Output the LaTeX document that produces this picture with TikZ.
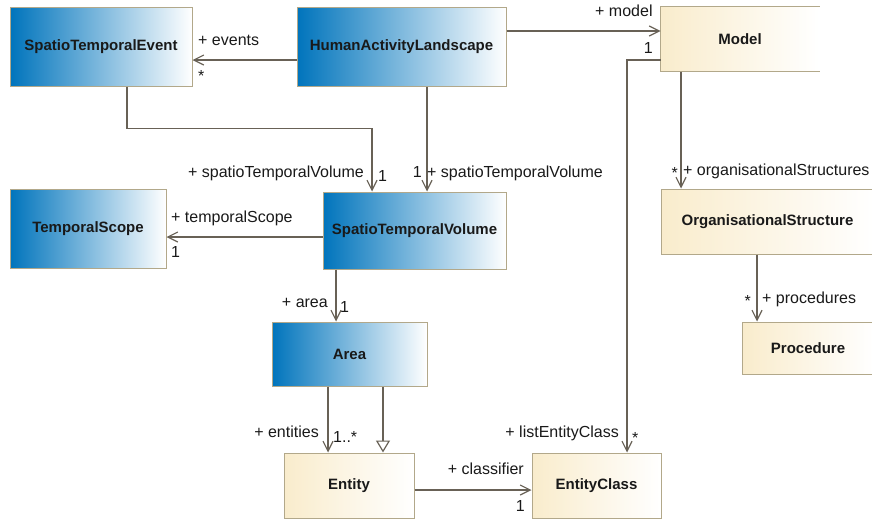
\documentclass[tikz,border=0pt]{standalone}
\usepackage{fontspec}
\setmainfont{Liberation Sans}
\usetikzlibrary{arrows.meta, calc}

\definecolor{umlblue}{RGB}{0,116,188}
\definecolor{umlmid}{RGB}{100,168,214}
\definecolor{umlcream}{RGB}{249,236,204}
\definecolor{umlborder}{RGB}{178,168,138}
\definecolor{umlline}{RGB}{104,97,86}

\tikzset{
  classbox/.style={draw=umlborder, line width=1pt, inner sep=0pt, text=black!90,
    font=\fontsize{15}{18}\selectfont\bfseries},
  blueclass/.style={classbox, left color=umlblue, middle color=umlmid, right color=white},
  creamclass/.style={classbox, left color=umlcream, right color=white},
  assoc/.style={draw=umlline, line width=1.2pt, -{Straight Barb[length=10pt,width=10pt]}},
  gen/.style={draw=umlline, line width=1.2pt, -{Triangle[length=12pt,width=14pt,fill=white]}},
  role/.style={inner sep=0pt, text=black!90, font=\fontsize{16}{19}\selectfont},
}

\begin{document}
\begin{tikzpicture}[x=1pt, y=-1pt]
        \useasboundingbox (0,0) rectangle (872,520);

        % classes
        \node[blueclass, minimum width=182pt, minimum height=79pt] (ste) at (101,46.5) {SpatioTemporalEvent};
        \node[blueclass, minimum width=209pt, minimum height=79pt] (hal) at (401.5,46.5) {HumanActivityLandscape};
        \node[creamclass, draw=none, minimum width=158pt, minimum height=64pt] (model) at (740,39) {Model};
        \draw[umlborder, line width=1pt] (model.north east) -- (model.north west) -- (model.south west) -- (model.south east);
        \node[blueclass, minimum width=156pt, minimum height=79pt] (ts) at (88,228.5) {TemporalScope};
        \node[blueclass, minimum width=183pt, minimum height=77pt] (stv) at (414.5,230.5) {SpatioTemporalVolume};
        \node[creamclass, minimum width=213pt, minimum height=65pt] (org) at (767.5,221.5) {OrganisationalStructure};
        \node[blueclass, minimum width=155pt, minimum height=64pt] (area) at (349.5,354) {Area};
        \node[creamclass, minimum width=132pt, minimum height=52pt] (proc) at (808,348) {Procedure};
        \node[creamclass, minimum width=130pt, minimum height=65pt] (entity) at (349,485.5) {Entity};
        \node[creamclass, minimum width=129pt, minimum height=65pt] (ec) at (596.5,485.5) {EntityClass};

        % associations
        \draw[assoc] ([yshift=-13.5pt]hal.west) -- ([yshift=-13.5pt]ste.east);
        \draw[assoc] ([yshift=15.5pt]hal.east) coordinate (hm) -- (hm -| model.west);
        \draw[assoc] ([xshift=26pt]ste.south) -- ++(0,42) -| ([xshift=-42.5pt]stv.north);
        \draw[assoc] ([xshift=25.5pt]hal.south) coordinate (hs) -- (hs |- stv.north);
        \draw[assoc] ([yshift=-6.5pt]stv.west) coordinate (st) -- (st -| ts.east);
        \draw[assoc] ([xshift=-78.5pt]stv.south) coordinate (sa) -- (sa |- area.north);
        \draw[assoc] ([xshift=-21.5pt]area.south) coordinate (ae) -- (ae |- entity.north);
        \draw[gen] ([xshift=33.5pt]area.south) coordinate (ag) -- (ag |- entity.north);
        \draw[assoc] ([yshift=-4.5pt]entity.east) coordinate (ee) -- (ee -| ec.west);
        \draw[assoc] ([yshift=-21pt]model.west) -| ([xshift=30.5pt]ec.north);
        \draw[assoc] ([xshift=-59pt]model.south) coordinate (mo) -- (mo |- org.north);
        \draw[assoc] ([xshift=-10.5pt]org.south) coordinate (op) -- (op |- proc.north);

        % role names and multiplicities
        \node[role, anchor=base west] (rEvents) at (198,45) {+ events};
        \node[role, anchor=base west] (mEvents) at (198,81) {*};
        \node[role, anchor=base west] (rModel) at (595,16) {+ model};
        \node[role, anchor=base east] (mModel) at (653,53) {1};
        \node[role, anchor=base east] (rVolA) at (364,177) {+ spatioTemporalVolume};
        \node[role, anchor=base west] (mVolA) at (378,181) {1};
        \node[role, anchor=base east] (mVolB) at (422,177) {1};
        \node[role, anchor=base west] (rVolB) at (427,177) {+ spatioTemporalVolume};
        \node[role, anchor=base west] (rScope) at (171,222) {+ temporalScope};
        \node[role, anchor=base west] (mScope) at (171,257) {1};
        \node[role, anchor=base east] (rArea) at (328,307) {+ area};
        \node[role, anchor=base west] (mArea) at (340,312) {1};
        \node[role, anchor=base east] (rEntities) at (319,437) {+ entities};
        \node[role, anchor=base west] (mEntities) at (333,442) {1..*};
        \node[role, anchor=base east] (rClassifier) at (524,474) {+ classifier};
        \node[role, anchor=base east] (mClassifier) at (525,511) {1};
        \node[role, anchor=base east] (rList) at (619,437) {+ listEntityClass};
        \node[role, anchor=base west] (mList) at (632,443) {*};
        \node[role, anchor=base east] (mOrg) at (678,178) {*};
        \node[role, anchor=base west] (rOrg) at (683,175) {+ organisationalStructures};
        \node[role, anchor=base east] (mProc) at (751,306) {*};
        \node[role, anchor=base west] (rProc) at (762,303) {+ procedures};
\end{tikzpicture}
\end{document}
